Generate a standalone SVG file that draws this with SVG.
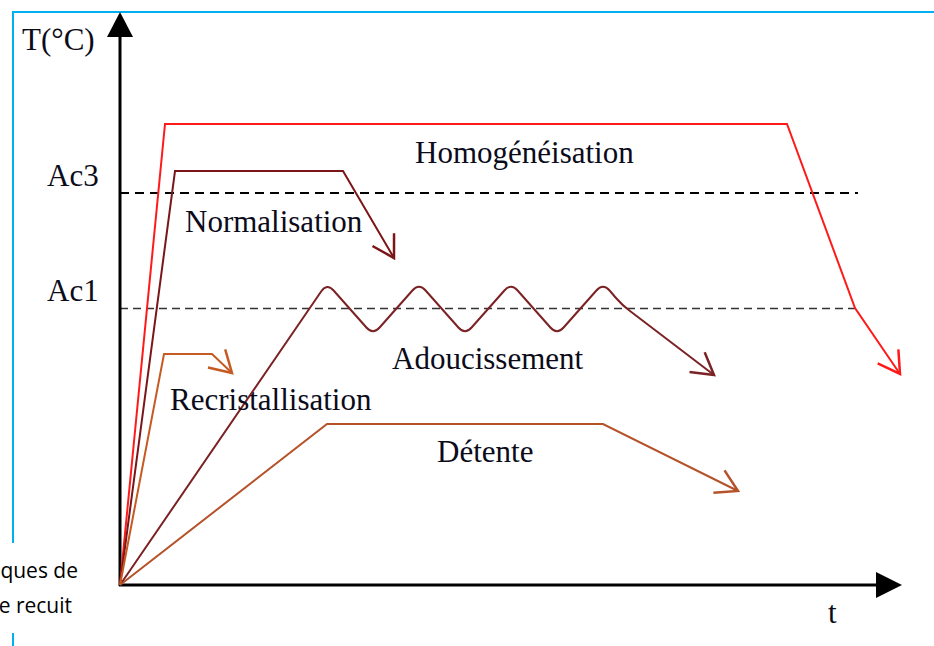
<svg xmlns="http://www.w3.org/2000/svg" width="934" height="646" viewBox="0 0 934 646">
  <style>
    .lbl { font-family: "Liberation Serif", "Times New Roman", serif; font-size: 31px; fill: #0b0b1a; }
    .cap { font-family: "Open Sans", "Liberation Sans", Arial, sans-serif; font-size: 21px; fill: #000; }
    .curve { fill: none; stroke-width: 2; stroke-linejoin: miter; }
    .axis { stroke: #000; stroke-width: 3; fill: none; }
  </style>
  <defs>
    <marker id="arr-red" markerUnits="userSpaceOnUse" orient="auto" refX="0" refY="0" markerWidth="30" markerHeight="30" viewBox="-20 -12 22 24" overflow="visible">
      <path d="M-17,-10 L0,0 L-17,10" fill="none" stroke="#ff1a1a" stroke-width="2"/>
    </marker>
    <marker id="arr-norm" markerUnits="userSpaceOnUse" orient="auto" refX="0" refY="0" markerWidth="30" markerHeight="30" viewBox="-20 -12 22 24" overflow="visible">
      <path d="M-17,-10 L0,0 L-17,10" fill="none" stroke="#7b1618" stroke-width="2"/>
    </marker>
    <marker id="arr-adou" markerUnits="userSpaceOnUse" orient="auto" refX="0" refY="0" markerWidth="30" markerHeight="30" viewBox="-20 -12 22 24" overflow="visible">
      <path d="M-17,-10 L0,0 L-17,10" fill="none" stroke="#7a2224" stroke-width="2"/>
    </marker>
    <marker id="arr-rec" markerUnits="userSpaceOnUse" orient="auto" refX="0" refY="0" markerWidth="30" markerHeight="30" viewBox="-20 -12 22 24" overflow="visible">
      <path d="M-17,-10 L0,0 L-17,10" fill="none" stroke="#c55a22" stroke-width="2"/>
    </marker>
    <marker id="arr-det" markerUnits="userSpaceOnUse" orient="auto" refX="0" refY="0" markerWidth="30" markerHeight="30" viewBox="-20 -12 22 24" overflow="visible">
      <path d="M-17,-10 L0,0 L-17,10" fill="none" stroke="#b5522a" stroke-width="2"/>
    </marker>
  </defs>

  <!-- blue frame -->
  <g id="frame" stroke="#00b0f0" stroke-width="2" fill="none">
    <line x1="13" y1="12" x2="934" y2="12"/>
    <line x1="13" y1="11" x2="13" y2="543"/>
    <line x1="13" y1="633" x2="13" y2="646"/>
  </g>

  <!-- caption fragment -->
  <g id="caption">
    <text class="cap" x="78" y="578" text-anchor="end">ques de</text>
    <text class="cap" x="72" y="613" text-anchor="end">e recuit</text>
  </g>

  <!-- critical temperature lines -->
  <g id="ac3">
    <line x1="120" y1="193" x2="858" y2="193" stroke="#000" stroke-width="2" stroke-dasharray="9,6"/>
    <text class="lbl" x="47" y="186">Ac3</text>
  </g>
  <g id="ac1">
    <line x1="120" y1="308.5" x2="858" y2="308.5" stroke="#333" stroke-width="1.5" stroke-dasharray="8,5"/>
    <text class="lbl" x="47" y="301">Ac1</text>
  </g>

  <!-- axes -->
  <g id="axes">
    <line class="axis" x1="120" y1="586" x2="120" y2="34"/>
    <polygon points="107,37 133,37 120,12" fill="#000"/>
    <line class="axis" x1="119" y1="585" x2="878" y2="585"/>
    <polygon points="876,572 876,598 902,585" fill="#000"/>
    <text class="lbl" x="22" y="50">T(°C)</text>
    <text class="lbl" x="828" y="623">t</text>
  </g>

  <!-- cycles -->
  <g id="connectors">
    <polyline id="homogeneisation-curve" class="curve" stroke="#ff1a1a" points="120,585 165,124 787,124 855,308 900,374" marker-end="url(#arr-red)"/>
    <polyline id="normalisation-curve" class="curve" stroke="#7b1618" points="120,585 175,171 343,171 394,258" marker-end="url(#arr-norm)"/>
    <path id="adoucissement-curve" class="curve" stroke="#7a2224" d="M120,585 L321.3,291.3 Q327,283 333.6,290.5 L366.4,327.5 Q373,335 379.6,327.5 L412.4,290.5 Q419,283 425.6,290.5 L458.4,327.5 Q465,335 471.6,327.5 L504.4,290.5 Q511,283 517.6,290.5 L550.4,327.5 Q557,335 563.6,327.5 L596.4,290.5 Q603,283 609.6,290.5 L616,298 Q622,305 630,311 L714,375" marker-end="url(#arr-adou)"/>
    <polyline id="recristallisation-curve" class="curve" stroke="#c55a22" points="120,585 164,354 212,354 232,373" marker-end="url(#arr-rec)"/>
    <polyline id="detente-curve" class="curve" stroke="#b5522a" points="120,585 327,424 603,424 738,491" marker-end="url(#arr-det)"/>
  </g>

  <!-- labels -->
  <g id="homogeneisation"><text class="lbl" x="415" y="163">Homogénéisation</text></g>
  <g id="normalisation"><text class="lbl" x="185" y="232">Normalisation</text></g>
  <g id="adoucissement"><text class="lbl" x="392" y="369">Adoucissement</text></g>
  <g id="recristallisation"><text class="lbl" x="170" y="410">Recristallisation</text></g>
  <g id="detente"><text class="lbl" x="437" y="462">Détente</text></g>
</svg>
